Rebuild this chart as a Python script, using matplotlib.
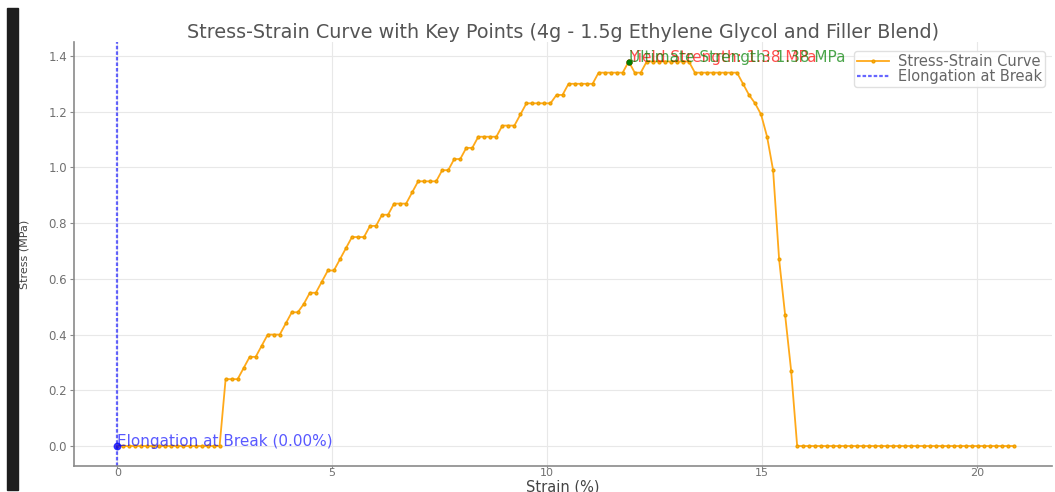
import matplotlib
matplotlib.use("Agg")
import matplotlib.pyplot as plt
from matplotlib.patches import Rectangle

# ---- data ----
strain = [0.00, 0.14, 0.28, 0.42, 0.56, 0.70, 0.84, 0.98, 1.12, 1.26, 1.40, 1.54, 1.68, 1.82, 1.96,
          2.10, 2.24, 2.38, 2.52, 2.66, 2.80, 2.94, 3.08, 3.22, 3.36, 3.50, 3.64, 3.78, 3.92, 4.06,
          4.20, 4.34, 4.48, 4.62, 4.76, 4.90, 5.04, 5.18, 5.32, 5.46, 5.60, 5.74, 5.88, 6.02, 6.16,
          6.30, 6.44, 6.58, 6.72, 6.86, 7.00, 7.14, 7.28, 7.42, 7.56, 7.70, 7.84, 7.98, 8.12, 8.26,
          8.40, 8.54, 8.68, 8.82, 8.96, 9.10, 9.24, 9.38, 9.52, 9.66, 9.80, 9.94, 10.08, 10.22, 10.36,
          10.50, 10.64, 10.78, 10.92, 11.06, 11.20, 11.34, 11.48, 11.62, 11.76, 11.90, 12.04, 12.18,
          12.32, 12.46, 12.60, 12.74, 12.88, 13.02, 13.16, 13.30, 13.44, 13.58, 13.72, 13.86, 14.00,
          14.14, 14.28, 14.42, 14.56, 14.70, 14.84, 14.98, 15.12, 15.26, 15.40, 15.54, 15.68, 15.82,
          15.96, 16.10, 16.24, 16.38, 16.52, 16.66, 16.80, 16.94, 17.08, 17.22, 17.36, 17.50, 17.64,
          17.78, 17.92, 18.06, 18.20, 18.34, 18.48, 18.62, 18.76, 18.90, 19.04, 19.18, 19.32, 19.46,
          19.60, 19.74, 19.88, 20.02, 20.16, 20.30, 20.44, 20.58, 20.72, 20.86]

stress = [0.0, 0.0, 0.0, 0.0, 0.0, 0.0, 0.0, 0.0, 0.0, 0.0, 0.0, 0.0, 0.0, 0.0, 0.0, 0.0, 0.0, 0.0,
          0.24, 0.24, 0.24, 0.28, 0.32, 0.32, 0.36, 0.40, 0.40, 0.40, 0.44, 0.48, 0.48, 0.51, 0.55,
          0.55, 0.59, 0.63, 0.63, 0.67, 0.71, 0.75, 0.75, 0.75, 0.79, 0.79, 0.83, 0.83, 0.87, 0.87,
          0.87, 0.91, 0.95, 0.95, 0.95, 0.95, 0.99, 0.99, 1.03, 1.03, 1.07, 1.07, 1.11, 1.11, 1.11,
          1.11, 1.15, 1.15, 1.15, 1.19, 1.23, 1.23, 1.23, 1.23, 1.23, 1.26, 1.26, 1.30, 1.30, 1.30,
          1.30, 1.30, 1.34, 1.34, 1.34, 1.34, 1.34, 1.38, 1.34, 1.34,
          1.38, 1.38, 1.38, 1.38, 1.38, 1.38, 1.38, 1.38,
          1.34, 1.34, 1.34, 1.34, 1.34, 1.34, 1.34, 1.34,
          1.30, 1.26, 1.23, 1.19, 1.11, 0.99, 0.67, 0.47, 0.27,
          0.0, 0.0, 0.0, 0.0, 0.0, 0.0, 0.0, 0.0, 0.0, 0.0, 0.0, 0.0, 0.0, 0.0, 0.0, 0.0, 0.0, 0.0,
          0.0, 0.0, 0.0, 0.0, 0.0, 0.0, 0.0, 0.0, 0.0, 0.0, 0.0, 0.0, 0.0, 0.0, 0.0, 0.0, 0.0, 0.0,
          0.0]

elongation_at_break = 0.00
key_strain = 11.90
yield_strength = 1.38
ultimate_strength = 1.38

title = "Stress-Strain Curve with Key Points (4g - 1.5g Ethylene Glycol and Filler Blend)"

# ---- figure ----
W, H = 1055, 492
fig = plt.figure(figsize=(W / 100, H / 100), dpi=100)
ax = fig.add_axes([74 / W, 1 - 466 / H, (1052 - 74) / W, (466 - 42) / H])

# dark screenshot border at left
fig.patches.append(Rectangle((7 / W, 2 / H), 11 / W, 482 / H, transform=fig.transFigure,
                             color="#1e1e1e", zorder=0))

ax.grid(True, color="#e8e8e8", linewidth=0.8)
ax.set_axisbelow(True)

ax.plot(strain, stress, color="#ffa91a", marker="o", markersize=2.0, linewidth=1.3,
        markeredgecolor="#f0a000", label="Stress-Strain Curve")
ax.axvline(elongation_at_break, color="blue", linestyle="--", dashes=(1.6, 0.9), linewidth=1.6,
           alpha=0.6, label="Elongation at Break")

ax.scatter([elongation_at_break], [0.0], color="blue", s=22, alpha=0.7, zorder=5)
ax.scatter([key_strain], [yield_strength], color="red", s=12, zorder=5)
ax.scatter([key_strain], [ultimate_strength], color="green", s=12, zorder=5)

ax.text(elongation_at_break, 0.0, f"Elongation at Break ({elongation_at_break:.2f}%)",
        color="blue", alpha=0.65, fontsize=11)
ax.text(key_strain, yield_strength, f"Yield Strength: {yield_strength:.2f} MPa",
        color="red", alpha=0.7, fontsize=11)
ax.text(key_strain, ultimate_strength, f"Ultimate Strength: {ultimate_strength:.2f} MPa",
        color="green", alpha=0.7, fontsize=11)

ax.set_xlim(-1.008, 21.75)
ax.set_ylim(-0.0717, 1.450)
ax.set_xticks([0, 5, 10, 15, 20])
ax.set_yticks([0.0, 0.2, 0.4, 0.6, 0.8, 1.0, 1.2, 1.4])

for s in ("top", "right"):
    ax.spines[s].set_visible(False)
for s in ("left", "bottom"):
    ax.spines[s].set_color("#8a8a8a")
    ax.spines[s].set_linewidth(1.2)

ax.tick_params(axis="both", colors="#8a8a8a", labelcolor="#707070", labelsize=8.5, length=3)
ax.tick_params(axis="x", pad=0.0, length=1.5, labelsize=8)
ax.tick_params(axis="y", pad=2)

ax.set_title(title, fontsize=13.8, color="#555555", pad=3)
ax.set_xlabel("Strain (%)", fontsize=10.5, color="#444444")
ax.xaxis.set_label_coords(0.5, -0.031)
ax.set_ylabel("Stress (MPa)", fontsize=8, color="#444444")
ax.yaxis.set_label_coords(-0.045, 0.5)

leg = ax.legend(loc="upper right", fontsize=10.5, labelspacing=0.0, borderpad=0.2,
                handlelength=2.2, handletextpad=0.6, framealpha=0.9, edgecolor="#dddddd",
                bbox_to_anchor=(1.0, 0.995))
for t in leg.get_texts():
    t.set_color("#666666")

fig.savefig("out.png", dpi=100, facecolor="white")
